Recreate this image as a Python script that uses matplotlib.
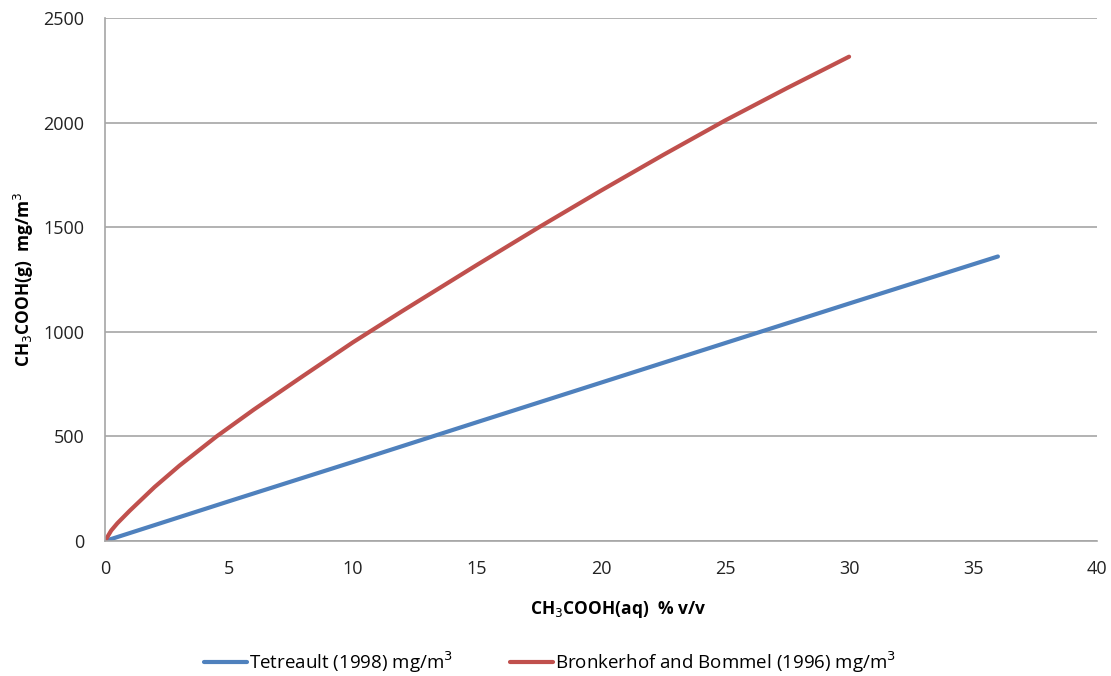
import matplotlib.pyplot as plt

plt.rcParams['font.family'] = ['Open Sans', 'DejaVu Sans']

# acetic acid in solution (% v/v) vs. equilibrium vapour concentration
x_tetreault = [0, 5, 10, 15, 20, 25, 30, 36]
y_tetreault = [0, 190, 378, 568, 757, 946, 1135, 1360]

x_bronkerhof = [0, 0.25, 0.5, 1, 2, 3, 4.5, 6, 8, 10, 12, 15, 17.5, 20, 22.5, 25, 27.5, 30]
y_bronkerhof = [0, 50, 85, 145, 258, 360, 500, 628, 790, 950, 1100, 1320, 1500,
                1675, 1845, 2010, 2165, 2315]

fig = plt.figure(figsize=(11.11, 6.76), dpi=100)
ax = fig.add_axes([0.0945, 0.1997, 0.893, 0.7737])

ax.plot(x_tetreault, y_tetreault, color='#4F81BD', lw=3, solid_capstyle='round',
        label='Tetreault (1998) mg/m$^3$')
ax.plot(x_bronkerhof, y_bronkerhof, color='#C0504D', lw=3, solid_capstyle='round',
        label='Bronkerhof and Bommel (1996) mg/m$^3$')

ax.set_xlim(0, 40)
ax.set_ylim(0, 2500)
ax.set_xticks(range(0, 41, 5))
ax.set_yticks(range(0, 2501, 500))
ax.grid(axis='y', color='#a6a6a6', lw=1.2)
ax.set_axisbelow(True)
for s in ['top', 'right']:
    ax.spines[s].set_visible(False)
for s in ['left', 'bottom']:
    ax.spines[s].set_color('#a6a6a6')
    ax.spines[s].set_linewidth(1.2)
ax.tick_params(length=0, labelsize=13, colors='#222222')
ax.tick_params(axis='x', pad=14)
ax.tick_params(axis='y', pad=15)

ax.set_xlabel('CH$_3$COOH(aq)  % v/v', fontsize=12.5, fontweight='bold')
ax.xaxis.set_label_coords(0.517, -0.11)
ax.set_ylabel('CH$_3$COOH(g)  mg/m$^3$', fontsize=12.5, fontweight='bold')
ax.yaxis.set_label_coords(-0.07, 0.5)

fig.legend(loc='center', bbox_to_anchor=(0.495, 1 - 662 / 676), ncol=2, frameon=False,
           fontsize=13.5, handlelength=2.3, handletextpad=0.1, columnspacing=3)

fig.savefig('out.png', dpi=100)
